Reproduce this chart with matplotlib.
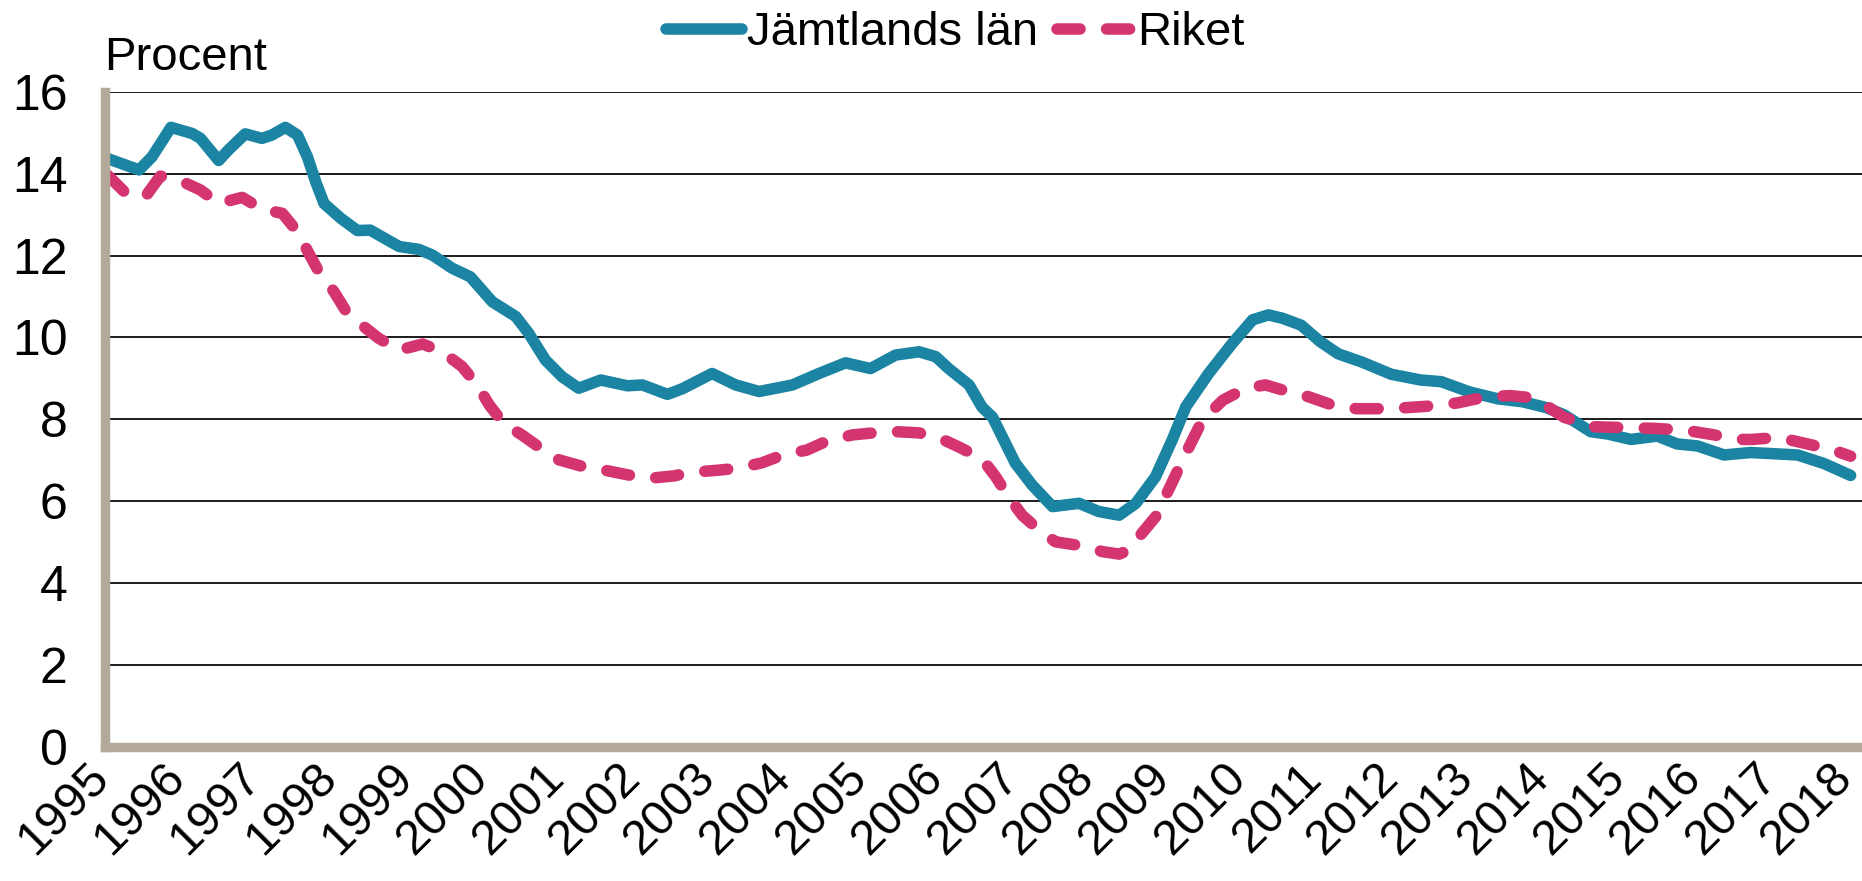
import numpy as np
import matplotlib
matplotlib.use("Agg")
import matplotlib.pyplot as plt
from matplotlib.transforms import ScaledTranslation

plt.rcParams['font.family'] = ['Liberation Sans', 'DejaVu Sans']

# Arbetslöshet (procent)
jamt_x = [1995.00, 1995.42, 1995.59, 1995.84, 1996.12, 1996.23, 1996.47, 1996.60,
          1996.82, 1997.04, 1997.17, 1997.35, 1997.51, 1997.64, 1997.75, 1997.86,
          1998.08, 1998.30, 1998.47, 1998.63, 1998.85, 1999.11, 1999.29, 1999.55,
          1999.79, 2000.08, 2000.39, 2000.56, 2000.78, 2001.00, 2001.22, 2001.51,
          2001.86, 2002.06, 2002.39, 2002.59, 2002.98, 2003.29, 2003.60, 2004.04,
          2004.39, 2004.74, 2005.07, 2005.40, 2005.71, 2005.93, 2006.10, 2006.37,
          2006.54, 2006.68, 2006.98, 2007.20, 2007.47, 2007.82, 2008.08, 2008.35,
          2008.57, 2008.83, 2009.05, 2009.23, 2009.53, 2009.84, 2010.11, 2010.32,
          2010.50, 2010.75, 2011.00, 2011.24, 2011.55, 2011.94, 2012.33, 2012.60,
          2012.97, 2013.35, 2013.67, 2013.98, 2014.22, 2014.57, 2014.80, 2015.10,
          2015.45, 2015.71, 2015.98, 2016.33, 2016.68, 2017.30, 2017.65, 2018.00]
jamt_y = [14.37, 14.09, 14.41, 15.13, 14.98, 14.86, 14.32, 14.58,
          14.97, 14.86, 14.94, 15.13, 14.94, 14.41, 13.80, 13.27,
          12.91, 12.61, 12.62, 12.45, 12.22, 12.15, 12.01, 11.69,
          11.48, 10.87, 10.51, 10.10, 9.45, 9.04, 8.76, 8.96,
          8.82, 8.84, 8.61, 8.75, 9.12, 8.84, 8.68, 8.84,
          9.12, 9.38, 9.24, 9.57, 9.65, 9.53, 9.24, 8.84,
          8.30, 8.05, 6.93, 6.40, 5.87, 5.95, 5.75, 5.66,
          5.95, 6.60, 7.50, 8.31, 9.12, 9.85, 10.43, 10.55,
          10.47, 10.30, 9.90, 9.60, 9.40, 9.10, 8.96, 8.92,
          8.67, 8.50, 8.43, 8.29, 8.11, 7.70, 7.64, 7.51,
          7.59, 7.40, 7.35, 7.13, 7.19, 7.13, 6.92, 6.63]

riket_x = [1995.00, 1995.24, 1995.50, 1995.70, 1995.95, 1996.23, 1996.47, 1996.78,
           1997.04, 1997.31, 1997.51, 1997.66, 1997.79, 1997.99, 1998.14, 1998.36,
           1998.58, 1998.85, 1999.16, 1999.42, 1999.68, 1999.88, 2000.04, 2000.23,
           2000.47, 2000.72, 2000.96, 2001.27, 2001.53, 2001.88, 2002.15, 2002.48,
           2002.67, 2003.07, 2003.33, 2003.64, 2003.91, 2004.23, 2004.48, 2004.83,
           2005.05, 2005.40, 2005.71, 2006.02, 2006.23, 2006.54, 2006.72, 2006.89,
           2007.07, 2007.29, 2007.51, 2007.86, 2008.13, 2008.35, 2008.48, 2008.65,
           2008.83, 2009.00, 2009.23, 2009.45, 2009.72, 2010.02, 2010.28, 2010.50,
           2010.85, 2011.16, 2011.48, 2011.94, 2012.41, 2012.81, 2013.19, 2013.51,
           2013.83, 2014.22, 2014.60, 2015.00, 2015.40, 2015.80, 2016.20, 2016.50,
           2016.70, 2017.05, 2017.50, 2017.80, 2018.00]
riket_y = [13.97, 13.53, 13.43, 13.94, 13.84, 13.60, 13.27, 13.42,
           13.13, 13.03, 12.58, 12.05, 11.61, 11.12, 10.67, 10.30,
           9.98, 9.69, 9.84, 9.65, 9.29, 8.84, 8.35, 7.90,
           7.62, 7.29, 7.01, 6.85, 6.77, 6.64, 6.56, 6.62,
           6.70, 6.76, 6.81, 6.94, 7.13, 7.25, 7.46, 7.62,
           7.66, 7.70, 7.67, 7.51, 7.33, 7.04, 6.60, 6.11,
           5.66, 5.30, 5.01, 4.91, 4.77, 4.71, 4.81, 5.22,
           5.62, 6.27, 7.17, 7.99, 8.47, 8.76, 8.84, 8.72,
           8.55, 8.35, 8.26, 8.26, 8.32, 8.40, 8.55, 8.58,
           8.52, 8.05, 7.82, 7.80, 7.78, 7.74, 7.62, 7.51,
           7.51, 7.56, 7.37, 7.23, 7.10]

years = list(range(1995, 2019))
yticks = list(range(0, 17, 2))

blue = '#1B84A3'
pink = '#D43470'
tan = '#B3A99B'

fig = plt.figure(figsize=(18.62, 8.81), dpi=100)
ax = fig.add_axes([105/1862, 134/881, 1 - 105/1862, 655.3/881])

ax.plot(jamt_x, jamt_y, color=blue, lw=8.3, solid_capstyle='round',
        solid_joinstyle='round', label='Jämtlands län', zorder=3)
l2, = ax.plot(riket_x, riket_y, color=pink, lw=8.3, dash_capstyle='round',
              dash_joinstyle='round', label='Riket', zorder=4)
l2.set_dashes([2.0, 2.3])

ax.set_xlim(1994.97, 2018.15)
ax.set_ylim(0, 16)
ax.set_yticks(yticks)
ax.set_yticklabels([str(v) for v in yticks], fontsize=36)
ax.set_xticks(years)
ax.set_xticklabels([str(y) for y in years], fontsize=35, rotation=45,
                   ha='right', va='center', rotation_mode='anchor')
ax.tick_params(axis='y', length=0, pad=27)
ax.tick_params(axis='x', length=0, pad=17)
shift = ScaledTranslation(-0.05, 0, fig.dpi_scale_trans)
for lab in ax.get_xticklabels():
    lab.set_transform(lab.get_transform() + shift)

ax.grid(axis='y', color='#1a1a1a', lw=1.4)
ax.set_axisbelow(True)
for s in ['top', 'right']:
    ax.spines[s].set_visible(False)
for s in ['left', 'bottom']:
    ax.spines[s].set_color(tan)
    ax.spines[s].set_linewidth(6.8)
    ax.spines[s].set_zorder(5)

fig.text(104/1862, 1 - 58/881, 'Procent', fontsize=34, ha='left', va='center')

fig.legend(loc='center', bbox_to_anchor=(0.513, 0.962), ncol=2, frameon=False,
           fontsize=34, handlelength=1.6, handletextpad=0.1, columnspacing=0.4,
           borderpad=0)

fig.savefig('out.png', dpi=100)
